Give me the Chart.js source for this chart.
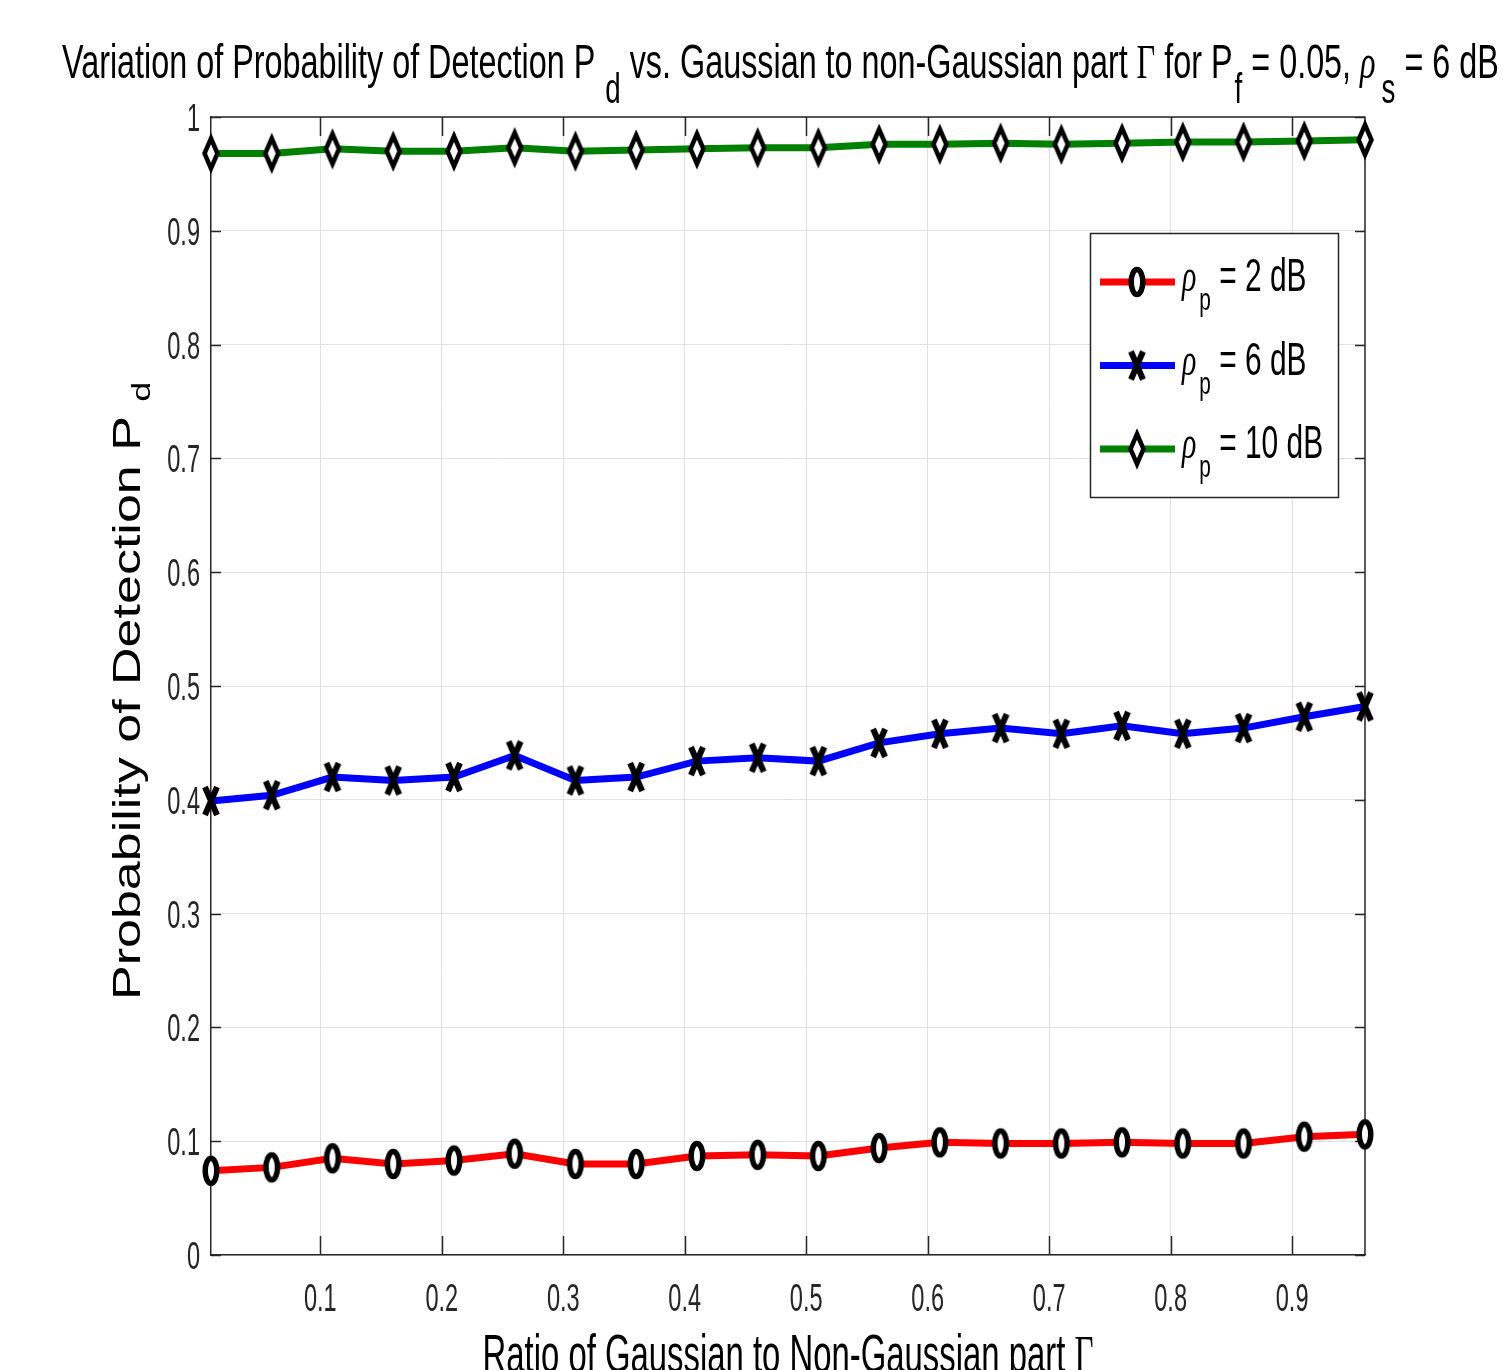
<!DOCTYPE html>
<html>
<head>
<meta charset="utf-8">
<script src="https://cdn.jsdelivr.net/npm/chart.js@4.4.0/dist/chart.umd.min.js"></script>
<style>
  html, body { margin: 0; padding: 0; background: #fff; }
</style>
</head>
<body>
<canvas id="chart" width="1503" height="1370"></canvas>
<script>
// values
var gammaRatio = [0.01, 0.06, 0.11, 0.16, 0.21, 0.26, 0.31, 0.36, 0.41, 0.46,
                  0.51, 0.56, 0.61, 0.66, 0.71, 0.76, 0.81, 0.86, 0.91, 0.96];
var pdRho2  = [0.074, 0.077, 0.085, 0.080, 0.083, 0.089, 0.080, 0.080, 0.087, 0.088,
               0.087, 0.094, 0.099, 0.098, 0.098, 0.099, 0.098, 0.098, 0.104, 0.106];
var pdRho6  = [0.399, 0.404, 0.420, 0.417, 0.420, 0.439, 0.417, 0.420, 0.434, 0.437,
               0.434, 0.450, 0.458, 0.463, 0.458, 0.465, 0.458, 0.463, 0.473, 0.482];
var pdRho10 = [0.968, 0.968, 0.972, 0.970, 0.970, 0.973, 0.970, 0.971, 0.972, 0.973,
               0.973, 0.976, 0.976, 0.977, 0.976, 0.977, 0.978, 0.978, 0.979, 0.980];
var rhoLabels = ['2 dB', '6 dB', '10 dB'];
var xTickValues = [0.1, 0.2, 0.3, 0.4, 0.5, 0.6, 0.7, 0.8, 0.9];
var xTickLabels = ['0.1', '0.2', '0.3', '0.4', '0.5', '0.6', '0.7', '0.8', '0.9'];
var yTickValues = [0, 0.1, 0.2, 0.3, 0.4, 0.5, 0.6, 0.7, 0.8, 0.9, 1];
var yTickLabels = ['0', '0.1', '0.2', '0.3', '0.4', '0.5', '0.6', '0.7', '0.8', '0.9', '1'];

var SQUEEZE = 0.65; // the figure text is horizontally condensed
var SANS = '"Liberation Sans", Arial, sans-serif';
var SERIF = '"Liberation Serif", "Times New Roman", serif';
var AXIS_COLOR = '#262626';

function partFont(p, size) {
  return (p.italic ? 'italic ' : '') + size + 'px ' + (p.serif ? SERIF : SANS);
}

function richWidth(ctx, parts, size, subSize, sx) {
  var w = 0;
  parts.forEach(function (p) {
    ctx.font = partFont(p, p.sub ? subSize : size);
    w += ctx.measureText(p.t).width * sx + (p.dx || 0);
  });
  return w;
}

// draws text pieces one after the other, subscripts dropped below the baseline
function drawRich(ctx, parts, x, y, size, subSize, subDrop, sx, sy) {
  parts.forEach(function (p) {
    x += p.dx || 0;
    ctx.save();
    ctx.font = partFont(p, p.sub ? subSize : size);
    var w = ctx.measureText(p.t).width;
    ctx.translate(x, y + (p.sub ? subDrop : 0));
    ctx.scale(sx, sy);
    ctx.textAlign = 'left';
    ctx.textBaseline = 'alphabetic';
    ctx.fillText(p.t, 0, 0);
    ctx.restore();
    x += w * sx;
  });
  return x;
}

// marker glyphs, drawn once on small canvases
function makeMarker(kind) {
  var c = document.createElement('canvas');
  if (kind === 'circle') {
    c.width = 24; c.height = 38;
  } else if (kind === 'cross') {
    c.width = 22; c.height = 36;
  } else {
    c.width = 24; c.height = 48;
  }
  var ctx = c.getContext('2d');
  ctx.strokeStyle = '#000';
  ctx.fillStyle = '#fff';
  ctx.beginPath();
  if (kind === 'circle') {
    ctx.ellipse(12, 19, 5.8, 12.5, 0, 0, Math.PI * 2);
    ctx.fill();
    ctx.lineWidth = 5.5;
    ctx.stroke();
  } else if (kind === 'cross') {
    ctx.lineWidth = 6;
    ctx.moveTo(5, 4); ctx.lineTo(17, 32);
    ctx.moveTo(17, 4); ctx.lineTo(5, 32);
    ctx.stroke();
  } else {
    ctx.moveTo(12, 9); ctx.lineTo(18.5, 24); ctx.lineTo(12, 39); ctx.lineTo(5.5, 24);
    ctx.closePath();
    ctx.fill();
    ctx.lineWidth = 4.5;
    ctx.lineJoin = 'miter';
    ctx.stroke();
  }
  return c;
}

var markers = [makeMarker('circle'), makeMarker('cross'), makeMarker('diamond')];
var seriesColors = ['#ff0000', '#0000ff', '#008000'];
var seriesValues = [pdRho2, pdRho6, pdRho10];

function toPoints(values) {
  return gammaRatio.map(function (g, i) { return { x: g, y: values[i] }; });
}

var datasets = seriesValues.map(function (vals, i) {
  return {
    label: rhoLabels[i],
    data: toPoints(vals),
    borderColor: seriesColors[i],
    backgroundColor: seriesColors[i],
    borderWidth: 7,
    tension: 0,
    pointStyle: markers[i],
    pointRadius: 10,
    pointHoverRadius: 10,
    clip: false
  };
});

var matlabAxes = {
  id: 'matlabAxes',
  beforeDatasetsDraw: function (chart) {
    var ctx = chart.ctx, a = chart.chartArea;
    var xs = chart.scales.x, ys = chart.scales.y;
    ctx.save();
    ctx.strokeStyle = AXIS_COLOR;
    ctx.lineWidth = 1.5;
    ctx.beginPath();
    ctx.moveTo(a.left, a.top); ctx.lineTo(a.right, a.top); ctx.lineTo(a.right, a.bottom);
    xs.ticks.forEach(function (t) {
      var px = Math.round(xs.getPixelForValue(t.value)) + 0.5;
      ctx.moveTo(px, a.bottom); ctx.lineTo(px, a.bottom - 19);
      ctx.moveTo(px, a.top); ctx.lineTo(px, a.top + 19);
    });
    ys.ticks.forEach(function (t) {
      var py = Math.round(ys.getPixelForValue(t.value)) + 0.5;
      ctx.moveTo(a.left, py); ctx.lineTo(a.left + 10, py);
      ctx.moveTo(a.right, py); ctx.lineTo(a.right - 10, py);
    });
    ctx.stroke();

    // tick labels
    ctx.fillStyle = AXIS_COLOR;
    xs.ticks.forEach(function (t, i) {
      var part = [{ t: xTickLabels[i] }];
      var w = richWidth(ctx, part, 38, 38, 0.62);
      drawRich(ctx, part, xs.getPixelForValue(t.value) - w / 2, a.bottom + 56, 38, 38, 0, 0.62, 1);
    });
    ys.ticks.forEach(function (t, i) {
      var part = [{ t: yTickLabels[i] }];
      var w = richWidth(ctx, part, 38, 38, 0.62);
      drawRich(ctx, part, a.left - 11 - w, ys.getPixelForValue(t.value) + 14, 38, 38, 0, 0.62, 1);
    });
    ctx.restore();
  },
  afterDraw: function (chart) {
    var ctx = chart.ctx, a = chart.chartArea;
    ctx.save();
    ctx.fillStyle = '#000';

    // title
    var title = [
      { t: 'Variation of Probability of Detection P' }, { t: 'd', sub: true, dx: 10 },
      { t: ' vs. Gaussian to non-Gaussian part ' }, { t: '\u0393', serif: true },
      { t: ' for P' }, { t: 'f', sub: true, dx: 2 }, { t: ' = 0.05, ' },
      { t: '\u03C1', serif: true, italic: true }, { t: 's', sub: true, dx: 6 }, { t: ' = 6 dB' }
    ];
    drawRich(ctx, title, 62, 78, 49, 42, 25, 0.66, 1);

    // x axis title
    var xTitle = [{ t: 'Ratio of Gaussian to Non-Gaussian part ' }, { t: '\u0393', serif: true }];
    var xw = richWidth(ctx, xTitle, 53, 30, 0.62);
    drawRich(ctx, xTitle, (a.left + a.right) / 2 - xw / 2, 1372, 53, 30, 0, 0.62, 1);

    // y axis title, rotated; text is squeezed across its height
    ctx.save();
    ctx.translate(140, 1000);
    ctx.rotate(-Math.PI / 2);
    drawRich(ctx, [{ t: 'Probability of Detection P ' }, { t: 'd', sub: true }], 0, 0, 52, 36, 10, 1, 0.73);
    ctx.restore();

    // legend box
    var box = { left: 1090, top: 233, right: 1338, bottom: 497 };
    ctx.fillStyle = '#fff';
    ctx.fillRect(box.left, box.top, box.right - box.left, box.bottom - box.top);
    ctx.strokeStyle = AXIS_COLOR;
    ctx.lineWidth = 1.5;
    ctx.strokeRect(box.left + 0.5, box.top + 0.5, box.right - box.left, box.bottom - box.top);
    chart.data.datasets.forEach(function (ds, i) {
      var rowY = box.top + 49 + i * 83.5;
      ctx.strokeStyle = ds.borderColor;
      ctx.lineWidth = 7;
      ctx.beginPath();
      ctx.moveTo(1100, rowY); ctx.lineTo(1175, rowY);
      ctx.stroke();
      var m = markers[i];
      ctx.drawImage(m, 1137 - m.width / 2, rowY - m.height / 2);
      ctx.fillStyle = '#000';
      drawRich(ctx, [
        { t: '\u03C1', serif: true, italic: true }, { t: 'p', sub: true, dx: 3 }, { t: ' = ' + ds.label }
      ], 1182, rowY + 9, 46, 32, 19, SQUEEZE, 1);
    });
    ctx.restore();
  }
};

new Chart(document.getElementById('chart'), {
  type: 'line',
  data: { datasets: datasets },
  options: {
    responsive: false,
    animation: false,
    layout: { padding: { left: 0, top: 117, right: 138, bottom: 0 } },
    plugins: { legend: { display: false }, tooltip: { enabled: false } },
    scales: {
      x: {
        type: 'linear',
        min: 0.01,
        max: 0.96,
        afterBuildTicks: function (scale) {
          scale.ticks = xTickValues.map(function (v) { return { value: v }; });
        },
        afterFit: function (scale) { scale.height = 115; },
        ticks: { display: false },
        grid: { color: '#e0e0e0', lineWidth: 1, drawTicks: false },
        border: { display: true, color: AXIS_COLOR, width: 1.5 }
      },
      y: {
        type: 'linear',
        min: 0,
        max: 1,
        afterBuildTicks: function (scale) {
          scale.ticks = yTickValues.map(function (v) { return { value: v }; });
        },
        afterFit: function (scale) { scale.width = 211; },
        ticks: { display: false },
        grid: { color: '#e0e0e0', lineWidth: 1, drawTicks: false },
        border: { display: true, color: AXIS_COLOR, width: 1.5 }
      }
    }
  },
  plugins: [matlabAxes]
});
</script>
</body>
</html>
